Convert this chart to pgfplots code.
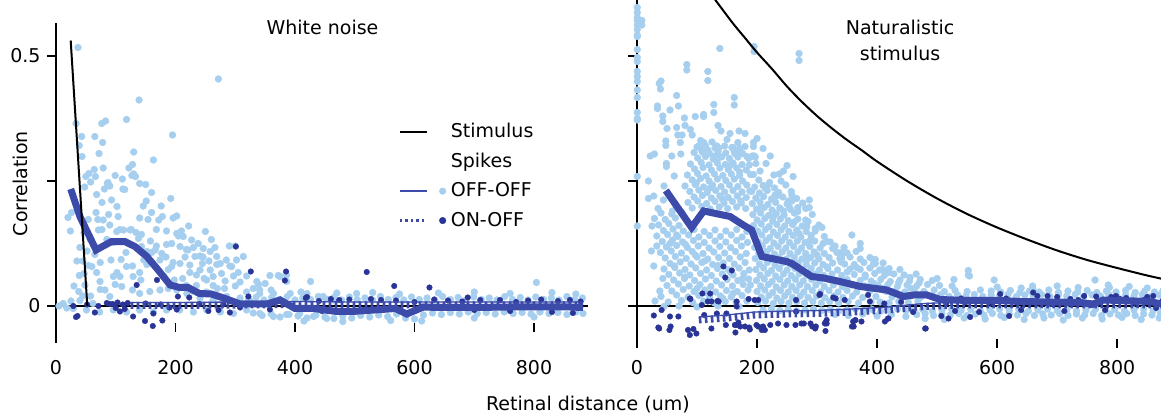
\documentclass[border=0pt]{standalone}
\usepackage{pgfplots}
\pgfplotsset{compat=1.18}
\usepackage{fontspec}
\setmainfont{DejaVu Sans}
\definecolor{lightdot}{RGB}{166,206,238}
\definecolor{darkdot}{RGB}{42,52,150}
\definecolor{meanline}{RGB}{60,74,170}
\pgfplotsset{
  panel/.style={scale only axis, clip=false, clip marker paths=true,
    axis x line=none, axis y line*=left,
    y axis line style={-, line width=1.4bp, black},
    ytick={0,0.25,0.5}, ytick pos=left, ytick align=outside,
    major tick length=9bp,
    every tick/.style={black, line width=1.4bp},
    /pgf/number format/assume math mode=true,
    legend cell align=left},
  xticks/.style={scale only axis, hide y axis, axis x line*=bottom,
    x axis line style={draw=none}, ymin=0, ymax=1, height=20bp,
    xtick={0,200,400,600,800}, xtick align=inside, major tick length=9bp,
    every tick/.style={black, line width=1.4bp},
    /pgf/number format/assume math mode=true},
  lightpts/.style={only marks, mark=*, mark size=3.4bp, color=lightdot, forget plot},
  darkpts/.style={only marks, mark=*, mark size=2.8bp, color=darkdot, forget plot},
  meanpl/.style={meanline, line width=7bp, forget plot},
  onoffbase/.style={meanline, line width=7bp, dash pattern=on 2.6bp off 3.4bp, forget plot},
  onofftop/.style={meanline, line width=1.3bp, forget plot},
  stimpl/.style={black, line width=2bp, forget plot},
  zeropl/.style={black, line width=1.4bp, forget plot}
}
\begin{document}
\fontsize{19bp}{23bp}\selectfont
\begin{tikzpicture}
\useasboundingbox (0bp,0bp) rectangle (1161bp,418bp);
% ================= LEFT PANEL =================
\begin{axis}[panel, at={(56bp,75bp)}, anchor=south west,
  width=533bp, height=320bp, xmin=0, xmax=892, ymin=-0.074, ymax=0.566,
  yticklabels={0,,0.5},
  title={White noise}, title style={at={(axis description cs:0.5,0.967)}, anchor=center},
  ylabel={Correlation}, ylabel style={at={(axis description cs:-0.0675,0.498)}, anchor=center},
  legend style={at={(axis description cs:0.642,0.694)}, anchor=north west, draw=none, fill=none,
    inner sep=0pt, row sep=8.5bp, column sep=2bp}]
\addplot[zeropl] coordinates {(0,0) (890,0)};
\addplot[lightpts] coordinates {
(5,0) (12,0.005) (18,-0.004) (20,0.177) (24,0.15) (25,0.01) (26,0.187) (29,-0.005) (30,0.04) (33.5,0.365) (36.8,0.517)
(35,0.09) (38,0.029) (39,0.061) (39,0.321) (40,0.117) (40,0.011) (43,0.339) (43.5,0.299) (45,0.02) (45,0.09) (47,0.065)
(47,0.146) (48,0.238) (48.5,0.042) (50,0.259) (51,-0.008) (52,0.11) (54,0.081) (54,0.173) (55,0.265) (56,0.14) (57,0.133)
(58,0.248) (58,0.02) (60,0.079) (62,0.005) (64,0.273) (65,0.339) (65,0.103) (66,0.259) (67,0.187) (68,0.223) (68,0.067)
(70,0.173) (71,0.152) (72,0.305) (73.6,0.049) (73,-0.012) (74,0.087) (74,0.033) (76.5,0.365) (77,0.153) (77,0.207)
(78,0.327) (79,0.276) (79,0.172) (81,0.234) (82,0.032) (83,0.37) (85,0.133) (86,0.245) (87,0.247) (88,0.183) (90,0.24)
(90,0.162) (90,0.019) (92,0.092) (93,0.212) (96,0.127) (96,0.059) (96,-0.008) (99,0.261) (99,0.043) (101.6,0.149)
(102,0.199) (102,0.067) (104,0.179) (107,0.153) (107,0.059) (109,0.093) (110,0.039) (111,0.254) (112,0.234) (113,0.152)
(115,0.233) (117,0.107) (118,0.373) (118,0.079) (118,-0.012) (122,0.276) (124,0.152) (126,0.153) (127,0.261) (128,0.283)
(128,0.08) (128,0.032) (129,0.059) (130,0.308) (130,0.264) (133,0.259) (134,0.147) (138,0.135) (139,0.412) (140,0.245)
(140,0.176) (140,0.067) (140,0.025) (142,0.052) (140,-0.008) (143,0.143) (143,0.119) (150,0.243) (151,0.21) (152,0.109)
(152,0.083) (147,0.092) (154,0.173) (157,0.029) (160,0.227) (160,0.187) (160,0.107) (158,0.13) (163,0.292) (163,-0.012)
(166,0.112) (166,0.079) (168,0.153) (168,0.12) (174,0.092) (174,0.032) (176,0.2) (177,0.105) (178,0.179) (185,0.123)
(185,-0.008) (188,0.073) (188,0.035) (192,0.215) (193.6,0.125) (193.6,0.079) (195,0.342) (196,0.176) (196,0.087)
(202,0.18) (202,0.145) (202,0.032) (205,0.14) (207.5,0.119) (207.5,0.085) (207,-0.008) (210,0.15) (213,0.139)
(218,0.113) (218,0.041) (219,0.025) (221,0.112) (224,0.082) (224,0.067) (227,0.132) (230,0.117) (230,-0.012)
(232.6,0.099) (235,0.041) (238,0.125) (241,0.1) (241,0.072) (241,0.016) (246,0.098) (246.5,0.115) (248,0.055)
(250,0.149) (252,0.052) (252,0.028) (252,-0.008) (258,0.109) (258,0.072) (263,0.059) (263,0.041) (263,0.012) (266,0.117)
(269,0.099) (269,0.083) (270,0.035) (271.7,0.454) (275,0.085) (275,-0.012) (277,0.065) (285,0.092) (285.6,0.019) (290,0.12)
(291,0.08) (294,0.079) (297,0.06) (297,-0.015) (300,0.12) (302,0.092) (305,0.067) (308,0.048) (308,0.016) (313.5,0.099)
(319,0.06) (319,0.028) (319,-0.008) (336,0.049) (339,0.043) (341,0.032) (341,0.025) (341,-0.015) (358,0.061) (364,0.025)
(364,-0.021) (372,0.061) (375,0.059) (386,0.049) (386,0.062) (386,-0.017) (392,0.025) (408,-0.015) (420,0.025) (426,0.049)
(431,-0.021) (447,0.019) (453,-0.025) (464,0.012) (503,0.025) (804,0.047)
(180,0.06) (212,0.055) (228,0.03) (245,0.085) (283,0.05) (256,0.09) (235,0.062) (198,0.052) (184,0.098) (216,0.098)
(282,0.035) (300,0.04) (330,0.035) (325,0.01) (350,0.045) (260,0.133) (222,0.16) (185,0.15) (172,0.172) (146,0.2)
(322,0.014) (335,0.018) (348,0.012) (361,0.017) (374,0.013) (387,0.019) (400,0.012) (413,0.016) (426,0.013) (439,0.019)
(452,0.014) (465,0.017) (478,0.012) (491,0.018) (504,0.013) (517,0.016) (530,0.012) (543,0.019) (556,0.013) (569,0.017)
(582,0.012) (595,0.018) (608,0.013) (621,0.016) (634,0.012) (647,0.019) (660,0.013) (673,0.017) (686,0.012) (699,0.018)
(712,0.013) (725,0.016) (738,0.012) (751,0.019) (764,0.013) (777,0.017) (790,0.012) (803,0.018) (816,0.013) (829,0.016)
(842,0.012) (855,0.019) (868,0.013) (881,0.016)
(330,-0.014) (345,-0.019) (360,-0.016) (375,-0.022) (390,-0.017) (405,-0.02) (420,-0.024) (435,-0.018) (450,-0.022)
(465,-0.025) (480,-0.02) (495,-0.024) (510,-0.019) (525,-0.022) (540,-0.018) (555,-0.021) (570,-0.016) (585,-0.024)
(600,-0.026) (615,-0.018) (630,-0.014) (645,-0.017) (660,-0.013) (675,-0.016) (690,-0.012) (705,-0.015) (720,-0.013)
(735,-0.016) (750,-0.012) (765,-0.015) (780,-0.013) (795,-0.016) (810,-0.012) (825,-0.015) (840,-0.013) (855,-0.017)
(870,-0.012) (882,-0.015)
(360,0.032) (410,0.028) (470,0.026) (530,0.027) (575,0.024) (640,0.026) (700,0.028) (760,0.025) (830,0.027) (870,0.024)
(415,-0.03) (480,-0.031) (560,-0.029) (612,-0.03) (700,-0.024) (800,-0.022)
};
\addplot[darkpts] coordinates {
(301,0.119) (326,0.069) (385,0.069) (383,0.051) (520,0.068) (566,0.04) (625,0.037) (689,0.017) (135,0.042) (169,0.052)
(204,0.019) (33.5,-0.022) (36,-0.02) (52,0.003) (65,-0.013) (71,0) (90,0.004) (107,-0.011) (129,-0.021) (149,-0.03)
(163,-0.015) (162,-0.04) (178,-0.029) (29,0) (202,-0.007) (223,0.017) (255,-0.01) (272,-0.008) (291,-0.013) (308,-0.003)
(322,0.019) (344,0.004) (358,-0.007) (420,0.018)
(85,0.006) (95,0.004) (103,0.007) (112,0.003) (120,0.006) (100,-0.004) (115,-0.006) (150,0.005) (175,0.003) (190,-0.003)
(240,0.004) (280,0.003)
(418,0.016) (440,0.01) (460,0.014) (474,0.012) (491,0.013) (527,0.014) (544,0.012) (569,0.011) (600,0.008) (633,0.013)
(656,0.011) (680,0.009) (710,0.012) (743,0.012) (770,0.008) (790,0.011) (812,0.013) (840,0.01) (860,0.012) (878,0.009)
(445,-0.01) (500,-0.012) (600,-0.01) (700,-0.008) (760,-0.01) (830,-0.012) (865,-0.014)
};
\addplot[onoffbase] coordinates {(125,0.001) (200,0.001) (300,0.002) (400,0.003) (500,0.002) (600,0.002) (700,0.002) (800,0.002) (882,0.002)};
\addplot[onofftop] coordinates {(125,0.007) (200,0.007) (300,0.008) (400,0.009) (500,0.008) (600,0.008) (700,0.008) (800,0.008) (882,0.008)};
\addplot[meanpl] coordinates {
(24.6,0.234) (40,0.179) (67,0.112) (93,0.129) (115,0.129) (132,0.119) (152,0.099) (171,0.072) (191,0.042) (207,0.037)
(221,0.037) (240,0.025) (260,0.024) (283,0.015) (308,0.004) (330,0.004) (353,0.004) (375,0.012) (400,-0.005) (431,-0.005)
(470,-0.011) (492,-0.011) (520,-0.009) (568,-0.005) (587,-0.016) (615,-0.002) (640,-0.003) (700,-0.003) (760,-0.002)
(820,-0.002) (860,-0.002) (882,-0.003)};
\addplot[stimpl] coordinates {(24.6,0.531) (52.4,0.0)};
\addlegendimage{legend image code/.code={\draw[black, line width=2bp] (0bp,0bp) -- (27bp,0bp); \path (47bp,0bp);}}
\addlegendentry{Stimulus}
\addlegendimage{legend image code/.code={\path (0bp,0bp) (47bp,0bp);}}
\addlegendentry{Spikes}
\addlegendimage{legend image code/.code={\draw[meanline, line width=2.5bp] (0bp,0bp) -- (27bp,0bp); \fill[lightdot] (43bp,0bp) circle (3.3bp);}}
\addlegendentry{OFF-OFF}
\addlegendimage{legend image code/.code={\draw[meanline, line width=2.5bp, dash pattern=on 2.5bp off 3bp] (0bp,0bp) -- (27bp,0bp); \fill[darkdot] (43bp,0bp) circle (3.3bp);}}
\addlegendentry{ON-OFF}
\end{axis}
\begin{axis}[xticks, at={(56bp,86bp)}, anchor=south west, width=533bp, xmin=0, xmax=892,
  xticklabel style={yshift=-22bp},
  xlabel={Retinal distance (um)},
  every axis x label/.style={at={(axis description cs:0.998,-3.65)}, anchor=center}]
\end{axis}
% ================= RIGHT PANEL =================
\begin{axis}[panel, at={(637bp,70bp)}, anchor=south west,
  width=524bp, height=348bp, xmin=0, xmax=873, ymin=-0.084, ymax=0.612,
  yticklabels={},
  title={Naturalistic\\stimulus},
  title style={at={(axis description cs:0.502,0.868)}, anchor=center, align=center, font=\fontsize{19bp}{26bp}\selectfont}]
\addplot[zeropl] coordinates {(0,0) (880,0)};
\addplot[lightpts] coordinates {
(0.5,0.597) (0.5,0.587) (0.5,0.577) (0.5,0.571) (0.5,0.562) (0.5,0.553) (0.5,0.542) (0.5,0.539) (0.5,0.513) (0.5,0.497)
(0.5,0.489) (0.5,0.469) (0.5,0.459) (0.5,0.449) (0.5,0.432) (0.5,0.417) (0.5,0.387) (0.5,0.375) (0.5,0.372) (0.5,0.259)
(0.5,0.16) (8,0.571) (8,0.562)
(138,0.515) (195,0.519) (195,0.509) (270,0.505) (270,0.491) (83,0.483) (83,0.472) (118,0.469) (118,0.451) (37,0.445)
(40,0.45) (39,0.434) (162,0.417) (162,0.402) (66,0.421) (69,0.4) (34,0.4) (34,0.395) (55,0.392) (128,0.403) (128,0.387)
(97,0.379) (111,0.383) (111,0.379) (43,0.38) (43,0.369) (79,0.376) (135,0.361) (50,0.355) (66,0.357) (80,0.361) (89,0.353)
(92,0.342) (75,0.342) (68,0.342) (48,0.33) (48,0.321) (72,0.327) (29,0.304) (73,0.304) (103,0.32) (111,0.327) (111,0.319)
(136,0.316) (133,0.32) (110,0.307) (117,0.304) (130,0.3) (136,0.298) (171,0.316) (171,0.31) (163,0.305) (192,0.3) (195,0.3)
(194,0.327) (194,0.319) (197,0.298) (158,0.317) (183,0.299) (198,0.285) (194,0.263) (250,0.281) (237,0.264) (260,0.259)
(219,0.243) (230,0.222) (258,0.222) (258,0.21) (287,0.212) (287,0.197) (268,0.197) (268,0.189) (254,0.197) (358,0.142)
(372,0.125) (372,0.115) (285,0.169) (283,0.159) (297,0.155) (316,0.129) (341,0.102) (341,0.095) (394,0.092) (409,0.073)
(420,0.067) (455,0.057) (500,0.055) (528,0.053) (552,0.071) (552,0.062) (595,0.052) (659,0.04) (763,0.052) (785,0.042)
(787,0.037) (660,0.032) (308,0.157) (339,0.107) (397,0.093) (397,0.085) (416,0.071) (554,0.06)
(28,0.22) (19,0.25) (19,0.215) (44,0.212) (49,0.285) (49,0.279) (25,0.16) (33,0.12) (45,0.24) (22,0.3) (58,0.3) (62,0.26)
(205,0.27) (215,0.285) (222,0.3) (210,0.315) (200,0.335) (228,0.262) (244,0.27) (180,0.345) (170,0.35) (155,0.345) (140,0.35)
(106,0.331) (125,0.328) (150,0.333) (168,0.327)
(100,0.318) (114,0.321) (130,0.316) (146,0.32) (160,0.317) (180,0.319)
(95,0.307) (108,0.31) (121,0.305) (135,0.309) (148,0.306) (162,0.309) (176,0.305)
(101,0.296) (114,0.299) (127,0.294) (141,0.298) (154,0.295) (168,0.298) (186,0.295)
(89,0.284) (107,0.287) (120,0.282) (134,0.286) (147,0.283) (160,0.286) (175,0.283)
(96,0.274) (110,0.277) (124,0.272) (138,0.276) (152,0.273) (166,0.276) (182,0.272)
(84,0.262) (101,0.265) (115,0.26) (129,0.264) (143,0.261) (157,0.264) (171,0.261) (189,0.263)
(92,0.252) (106,0.255) (120,0.25) (134,0.254) (148,0.251) (162,0.254) (176,0.25)
(80,0.24) (97,0.243) (111,0.238) (126,0.242) (140,0.239) (154,0.242) (168,0.239) (183,0.242)
(88,0.229) (103,0.232) (117,0.227) (131,0.231) (146,0.228) (160,0.231) (175,0.228)
(95,0.218) (109,0.221) (124,0.216) (138,0.22) (152,0.217) (167,0.22) (182,0.217)
(85,0.207) (101,0.21) (116,0.205) (130,0.209) (145,0.206) (159,0.209) (174,0.206)
(92,0.196) (108,0.199) (122,0.194) (137,0.198) (151,0.195) (166,0.198) (181,0.195)
(40,0.186) (58,0.184) (75,0.187) (47,0.173) (64,0.176) (82,0.172) (36,0.162) (53,0.165) (70,0.161) (88,0.164)
(44,0.151) (60,0.154) (77,0.15) (95,0.153) (112,0.149) (130,0.152) (148,0.15) (166,0.153) (183,0.149)
(33,0.14) (51,0.143) (68,0.139) (86,0.142) (103,0.138) (121,0.141) (139,0.139) (157,0.142) (175,0.138)
(42,0.129) (59,0.132) (76,0.128) (94,0.131) (112,0.127) (130,0.13) (148,0.128) (166,0.131) (184,0.127)
(49,0.118) (66,0.121) (84,0.117) (102,0.12) (120,0.116) (138,0.119) (156,0.117) (174,0.12)
(39,0.107) (57,0.11) (74,0.106) (92,0.109) (110,0.105) (128,0.108) (146,0.106) (164,0.109) (182,0.105)
(47,0.096) (64,0.099) (82,0.095) (100,0.098) (118,0.094) (136,0.097) (154,0.095) (172,0.098)
(55,0.085) (72,0.088) (90,0.084) (108,0.087) (126,0.083) (144,0.086) (162,0.084) (180,0.087)
(45,0.074) (63,0.077) (80,0.073) (98,0.076) (116,0.072) (134,0.075) (152,0.073) (170,0.076) (187,0.072)
(53,0.063) (71,0.066) (88,0.062) (106,0.065) (124,0.061) (142,0.064) (160,0.062) (178,0.065)
(61,0.052) (79,0.055) (96,0.051) (114,0.054) (132,0.05) (150,0.053) (168,0.051) (186,0.054)
(50,0.041) (69,0.044) (87,0.04) (105,0.043) (123,0.039) (141,0.042) (159,0.04) (177,0.043)
(58,0.03) (77,0.033) (95,0.029) (113,0.032) (131,0.028) (149,0.031) (167,0.029) (185,0.032)
(40,0.019) (66,0.022) (85,0.018) (103,0.021) (121,0.017) (139,0.02) (157,0.018) (175,0.021)
(30,0.01) (52,0.008) (74,0.011) (93,0.007) (111,0.01) (129,0.006) (147,0.009) (165,0.007) (183,0.01)
(45,-0.001) (70,0.0) (100,-0.002) (135,0.0) (170,-0.001)
(214,0.235) (233,0.22) (252,0.21) (207,0.198) (244,0.19) (227,0.178) (262,0.168) (281,0.172) (297,0.15) (270,0.145)
(288,0.131) (310,0.125) (326,0.115) (300,0.102) (283,0.093) (340,0.088) (317,0.078) (350,0.068) (366,0.077) (380,0.058)
(395,0.045) (410,0.035) (436,0.047) (455,0.036) (470,0.046) (118,0.312) (133,0.291) (155,0.281) (171,0.268) (187,0.282)
(99,0.246) (122,0.236) (142,0.214) (173,0.21) (188,0.23) (59,0.19) (66,0.142) (81,0.123) (97,0.102) (113,0.09)
(135,0.081) (156,0.067) (176,0.055) (189,0.042) (43,0.055) (62,0.08) (80,0.058) (100,0.035) (118,0.025) (143,0.015)
(160,0.025) (38,0.03) (28,0.08) (24,0.11) (55,0.125) (29,0.175) (35,0.195)
(203,0.252) (221,0.247) (240,0.25) (196,0.238) (210,0.241) (229,0.236) (248,0.242)
(191,0.229) (204,0.226) (217,0.231) (236,0.227) (257,0.229) (198,0.216) (211,0.219) (224,0.214) (243,0.218) (266,0.215)
(192,0.205) (205,0.208) (218,0.203) (231,0.207) (250,0.204) (276,0.206)
(199,0.194) (212,0.197) (225,0.192) (238,0.196) (256,0.193) (281,0.195)
(193,0.183) (206,0.186) (219,0.181) (232,0.185) (245,0.182) (262,0.186) (292,0.183)
(200,0.172) (213,0.175) (226,0.17) (239,0.174) (252,0.171) (268,0.174)
(194,0.161) (207,0.164) (220,0.159) (233,0.163) (246,0.16) (259,0.163) (275,0.16) (303,0.162)
(201,0.15) (214,0.153) (227,0.148) (240,0.152) (253,0.149) (266,0.152) (282,0.149)
(195,0.139) (208,0.142) (221,0.137) (234,0.141) (247,0.138) (260,0.141) (273,0.138) (290,0.141) (312,0.139)
(202,0.128) (215,0.131) (228,0.126) (241,0.13) (254,0.127) (267,0.13) (280,0.127) (296,0.13) (322,0.128)
(196,0.117) (209,0.12) (222,0.115) (235,0.119) (248,0.116) (261,0.119) (274,0.116) (288,0.119) (305,0.116)
(203,0.106) (216,0.109) (229,0.104) (242,0.108) (255,0.105) (268,0.108) (281,0.105) (295,0.108) (312,0.105) (333,0.107)
(197,0.095) (210,0.098) (223,0.093) (236,0.097) (249,0.094) (262,0.097) (275,0.094) (289,0.097) (303,0.094) (320,0.097)
(204,0.084) (217,0.087) (230,0.082) (243,0.086) (256,0.083) (269,0.086) (282,0.083) (296,0.086) (310,0.083) (326,0.086) (346,0.084)
(198,0.073) (211,0.076) (224,0.071) (237,0.075) (250,0.072) (263,0.075) (276,0.072) (290,0.075) (304,0.072) (318,0.075) (334,0.072) (355,0.074)
(205,0.062) (218,0.065) (231,0.06) (244,0.064) (257,0.061) (270,0.064) (283,0.061) (297,0.064) (311,0.061) (325,0.064) (341,0.061) (362,0.063)
(199,0.051) (212,0.054) (225,0.049) (238,0.053) (251,0.05) (264,0.053) (277,0.05) (291,0.053) (305,0.05) (319,0.053) (334,0.05) (350,0.053) (372,0.051)
(206,0.04) (219,0.043) (232,0.038) (245,0.042) (258,0.039) (271,0.042) (284,0.039) (298,0.042) (312,0.039) (327,0.042) (342,0.039) (358,0.042) (380,0.04) (402,0.041)
(200,0.029) (213,0.032) (226,0.027) (239,0.031) (252,0.028) (265,0.031) (278,0.028) (292,0.031) (306,0.028) (320,0.031) (335,0.028) (350,0.031) (366,0.028) (388,0.03) (415,0.029)
(207,0.018) (220,0.021) (233,0.016) (246,0.02) (259,0.017) (272,0.02) (285,0.017) (299,0.02) (313,0.017) (328,0.02) (343,0.017) (359,0.02) (376,0.017) (398,0.019) (425,0.018)
(201,0.007) (214,0.01) (227,0.005) (240,0.009) (253,0.006) (266,0.009) (279,0.006) (293,0.009) (307,0.006) (321,0.009) (336,0.006) (352,0.009) (369,0.006) (390,0.008)
(330,0.12) (345,0.117) (350,0.106) (365,0.109) (338,0.095) (355,0.098) (372,0.094) (388,0.097)
(362,0.083) (378,0.087) (394,0.084) (410,0.086) (372,0.073) (388,0.076) (404,0.072) (420,0.075) (438,0.073)
(380,0.062) (396,0.065) (412,0.061) (428,0.064) (445,0.062) (465,0.064)
(390,0.05) (406,0.053) (422,0.049) (438,0.052) (454,0.05) (472,0.053) (492,0.051)
(418,0.043) (434,0.039) (450,0.042) (466,0.04) (484,0.043) (504,0.041) (525,0.04)
(430,0.03) (446,0.028) (462,0.031) (478,0.029) (495,0.032) (512,0.029) (530,0.031) (550,0.029) (572,0.032)
(440,0.018) (456,0.02) (472,0.017) (405,0.008) (420,0.006) (436,0.009) (452,0.007) (468,0.01)
(210,-0.008) (224,-0.006) (238,-0.009) (252,-0.007) (266,-0.01) (280,-0.008) (294,-0.006) (308,-0.009) (322,-0.007)
(336,-0.01) (350,-0.008) (364,-0.006) (378,-0.009) (392,-0.007) (406,-0.01) (420,-0.008) (434,-0.006) (448,-0.009)
(330,-0.017) (352,-0.019) (376,-0.016) (400,-0.02) (424,-0.017) (448,-0.021)
(590,0.03) (606,0.028) (622,0.031) (638,0.027) (654,0.03) (670,0.028) (686,0.032) (702,0.027) (718,0.03) (734,0.028)
(750,0.031) (766,0.027) (782,0.03) (798,0.028) (814,0.031) (830,0.027) (846,0.03) (862,0.028) (876,0.03)
(478,0.022) (492,0.02) (506,0.023) (520,0.019) (534,0.022) (548,0.02) (562,0.023) (576,0.019) (590,0.022) (604,0.02)
(618,0.023) (632,0.019) (646,0.022) (660,0.02) (674,0.023) (688,0.019) (702,0.022) (716,0.02) (730,0.023) (744,0.019)
(758,0.022) (772,0.02) (786,0.023) (800,0.019) (814,0.022) (828,0.02) (842,0.023) (856,0.019) (870,0.022) (880,0.02)
(460,-0.009) (476,-0.007) (492,-0.01) (508,-0.008) (524,-0.006) (540,-0.009) (556,-0.007) (572,-0.01) (588,-0.008)
(604,-0.006) (620,-0.009) (636,-0.007) (652,-0.01) (668,-0.008) (684,-0.006) (700,-0.009) (716,-0.007) (732,-0.01)
(748,-0.008) (764,-0.006) (780,-0.009) (796,-0.007) (812,-0.01) (828,-0.008) (844,-0.006) (860,-0.009) (876,-0.007)
(466,-0.017) (480,-0.015) (494,-0.019) (508,-0.016) (522,-0.018) (536,-0.015) (550,-0.019) (564,-0.016) (578,-0.018)
(592,-0.015) (606,-0.019) (620,-0.016) (634,-0.018) (648,-0.015) (662,-0.019) (676,-0.016) (690,-0.018) (704,-0.015)
(718,-0.019) (732,-0.016) (746,-0.018) (760,-0.015) (774,-0.019) (788,-0.016) (802,-0.018) (816,-0.015) (830,-0.019)
(844,-0.016) (858,-0.018) (872,-0.015)
(480,-0.025) (512,-0.027) (545,-0.024) (580,-0.026) (612,-0.023) (645,-0.027) (678,-0.024) (710,-0.028) (742,-0.024)
(775,-0.026) (808,-0.023) (840,-0.027) (870,-0.024)
(600,0.038) (640,0.036) (700,0.04) (735,0.037) (820,0.039) (850,0.036)
};
\addplot[darkpts] coordinates {
(144,0.079) (158,0.071) (147,0.057) (89,0.014) (122,0.025) (124,0.009) (134,0.01) (108,0.002) (166,0.009) (166,-0.001)
(186,0.014) (202,0.012) (133,-0.015) (28,-0.019) (41,-0.008) (55,-0.021) (69,-0.021) (35.5,-0.043) (56,-0.041) (54,-0.048)
(85,-0.048) (94,-0.046) (99,-0.055) (88,-0.058) (124,-0.045) (149,-0.015) (166,-0.038) (172,-0.041) (164,-0.053) (180,-0.041)
(188,-0.047) (199,-0.038) (210,-0.041) (213,-0.048) (222,-0.038) (235,-0.035) (249,-0.038) (264,-0.038) (278,-0.035)
(289,-0.035) (297,-0.045) (314,-0.033) (314,-0.05) (305,0.024) (327,0.017) (385,0.022) (605,0.024) (480,-0.045) (360,-0.031)
(363,-0.029) (374,-0.031) (358,-0.041) (313,-0.035) (316,-0.028) (413,-0.031) (419,-0.025) (519,-0.025) (507,-0.02)
(660,0.027) (684,0.02) (798,0.02) (765,0.019)
(37,-0.045) (112,-0.018) (148,-0.038) (163,-0.038) (169,-0.033) (187,-0.043) (202,-0.041) (208,-0.048)
(88,0.015) (109,0.025) (118,0.009) (136,0.009) (196,0.012) (265,0.012) (304,0.022) (331,0.015) (346,0.012) (388,0.009) (412,0.005)
(265,-0.011) (274,-0.035) (292,-0.041) (298,-0.041) (316,-0.035) (361,-0.041) (364,-0.028) (418,-0.025) (481,-0.045)
(515,0.005) (530,-0.01) (548,0.008) (570,-0.012) (590,0.006) (615,0.015) (640,-0.008) (667,0.02) (690,0.004) (712,-0.01)
(735,0.012) (757,0.002) (780,-0.008) (805,0.014) (830,0.006) (850,0.018) (865,-0.004) (875,0.01) (555,-0.022) (620,-0.02)
(700,0.018) (722,0.014) (745,0.02) (790,0.018) (815,0.016) (845,0.012) (860,0.02) (440,0.008) (460,-0.012) (540,0.015)
};
\addplot[onoffbase] coordinates {(103,-0.028) (150,-0.024) (196,-0.018) (250,-0.016) (298,-0.015) (360,-0.012) (418,-0.008) (478,-0.001) (538,0.002) (600,0.002) (700,0.002) (800,0.002) (880,0.002)};
\addplot[onofftop] coordinates {(103,-0.022) (150,-0.018) (196,-0.012) (250,-0.01) (298,-0.009) (360,-0.006) (418,-0.002) (478,0.005) (538,0.008) (600,0.008) (700,0.008) (800,0.008) (880,0.008)};
\addplot[meanpl] coordinates {
(48,0.231) (91,0.157) (111,0.19) (155,0.179) (177,0.162) (191,0.152) (208,0.099) (249,0.089) (258,0.085) (291,0.059)
(311,0.056) (338,0.049) (372,0.039) (416,0.032) (444,0.019) (461,0.022) (483,0.022) (505,0.013) (550,0.011) (605,0.011)
(638,0.009) (738,0.007) (760,0.004) (777,0.012) (855,0.009) (880,0.002)};
\addplot[stimpl, smooth] coordinates {
(125,0.621) (138,0.600) (160,0.565) (180,0.536) (200,0.507) (225,0.474) (250,0.439) (275,0.408) (300,0.38) (325,0.355)
(350,0.332) (375,0.311) (400,0.289) (450,0.25) (500,0.215) (550,0.184) (600,0.157) (650,0.133) (700,0.111) (750,0.092)
(800,0.076) (850,0.061) (880,0.053)};
\end{axis}
\begin{axis}[xticks, at={(637bp,70bp)}, anchor=south west, width=524bp, xmin=0, xmax=873,
  xticklabel style={yshift=-6bp}]
\end{axis}
\end{tikzpicture}
\end{document}
